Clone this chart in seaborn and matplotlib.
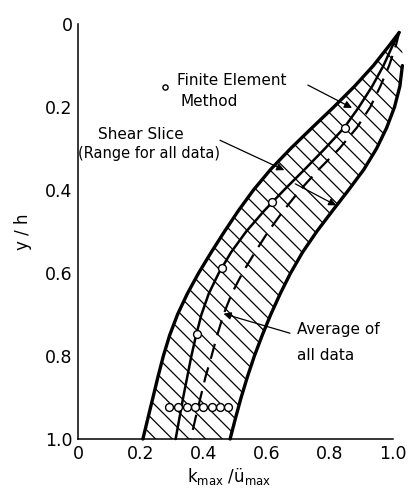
import numpy as np
import pandas as pd
import matplotlib
matplotlib.use("Agg")
import matplotlib.pyplot as plt
import seaborn as sns

depth = [0.02, 0.05, 0.10, 0.15, 0.20, 0.25, 0.30, 0.35, 0.40, 0.45, 0.50,
         0.55, 0.60, 0.65, 0.70, 0.75, 0.80, 0.85, 0.90, 0.95, 1.00]

# shear slice range, left and right edge (k_max / u_max)
range_left = [1.02, 0.99, 0.938, 0.878, 0.812, 0.743, 0.675, 0.612, 0.557, 0.509, 0.465,
              0.423, 0.383, 0.347, 0.316, 0.291, 0.271, 0.254, 0.238, 0.222, 0.206]
range_right = [1.02, 1.03, 1.03, 1.022, 1.005, 0.98, 0.948, 0.908, 0.859, 0.808, 0.758,
               0.713, 0.675, 0.642, 0.612, 0.585, 0.56, 0.538, 0.518, 0.50, 0.483]

# finite element curve
fem_curve = [1.02, 1.0, 0.97, 0.934, 0.892, 0.845, 0.784, 0.72, 0.654, 0.591, 0.534,
             0.486, 0.447, 0.415, 0.392, 0.375, 0.36, 0.347, 0.334, 0.322, 0.31]

# average of all data
avg_curve = [1.02, 1.01, 0.988, 0.96, 0.928, 0.885, 0.83, 0.765, 0.705, 0.652, 0.604,
             0.562, 0.522, 0.488, 0.462, 0.442, 0.424, 0.405, 0.389, 0.373, 0.358]

# finite element points
fem_pts_x = [0.848, 0.616, 0.457, 0.378]
fem_pts_y = [0.25, 0.429, 0.588, 0.747]
row_pts_x = [0.289, 0.318, 0.346, 0.371, 0.397, 0.425, 0.451, 0.476]
row_pts_y = [0.923] * 8

ticks = [0, 0.2, 0.4, 0.6, 0.8, 1.0]
tick_labels = ['0', '0.2', '0.4', '0.6', '0.8', '1.0']

sns.set_style('white', rc={'text.color': 'black', 'axes.labelcolor': 'black',
                           'xtick.color': 'black', 'ytick.color': 'black'})
plt.rcParams['font.family'] = ['DejaVu Sans']
plt.rcParams['hatch.linewidth'] = 0.9

fig = plt.figure(figsize=(4.09, 4.91), dpi=100)
ax = fig.add_axes([0.1907, 0.1059, 0.770, 0.845])

# hatched range
ax.fill_betweenx(depth, range_left, range_right, facecolor='none',
                 edgecolor='black', hatch='\\\\', linewidth=0, clip_on=False)

df = pd.DataFrame({'y': depth, 'left': range_left, 'right': range_right,
                   'fem': fem_curve, 'avg': avg_curve})

sns.lineplot(data=df, x='left', y='y', sort=False, estimator=None, color='black',
             lw=2.4, ax=ax, clip_on=False)
sns.lineplot(data=df.iloc[2:], x='right', y='y', sort=False, estimator=None, color='black',
             lw=2.4, ax=ax, clip_on=False)
sns.lineplot(data=df, x='fem', y='y', sort=False, estimator=None, color='black',
             lw=1.8, ax=ax, clip_on=False)
sns.lineplot(data=df, x='avg', y='y', sort=False, estimator=None, color='black',
             lw=1.6, ax=ax, clip_on=False, linestyle=(0, (7, 4)))

ax.plot(row_pts_x, row_pts_y, color='black', lw=0.8)
sns.scatterplot(x=fem_pts_x + row_pts_x, y=fem_pts_y + row_pts_y, ax=ax, s=32,
                facecolor='white', edgecolor='black', linewidth=1.0, zorder=5)

ax.set_xlim(0, 1.0)
ax.set_ylim(1.0, 0)
ax.set_xticks(ticks)
ax.set_xticklabels(tick_labels)
ax.set_yticks(ticks)
ax.set_yticklabels(tick_labels)
ax.tick_params(direction='in', length=9, width=1.1, labelsize=12.5, pad=4)
for s in ['top', 'right']:
    ax.spines[s].set_visible(False)
for s in ['left', 'bottom']:
    ax.spines[s].set_linewidth(1.1)
    ax.spines[s].set_color('black')

ax.set_xlabel('k$_{\\mathrm{max}}$ /ü$_{\\mathrm{max}}$', fontsize=12)
ax.xaxis.set_label_coords(0.48, -0.065)
ax.set_ylabel('y / h', fontsize=12)
ax.yaxis.set_label_coords(-0.145, 0.5)

# annotations
ax.scatter([0.276], [0.152], s=14, facecolor='white', edgecolor='black', lw=1.0)
ax.text(0.314, 0.135, 'Finite Element', fontsize=11, va='center', ha='left')
ax.text(0.324, 0.186, 'Method', fontsize=11, va='center', ha='left')
ax.text(0.063, 0.267, 'Shear Slice', fontsize=11, va='center', ha='left')
ax.text(0.0, 0.311, '(Range for all data)', fontsize=10.5, va='center', ha='left')
ax.text(0.695, 0.737, 'Average of', fontsize=11, va='center', ha='left')
ax.text(0.695, 0.798, 'all data', fontsize=11, va='center', ha='left')

arrow = dict(arrowstyle='-|>', color='black', lw=0.9, mutation_scale=11,
             shrinkA=0, shrinkB=0)
ax.annotate('', xy=(0.87, 0.202), xytext=(0.73, 0.147), arrowprops=arrow)
ax.annotate('', xy=(0.655, 0.352), xytext=(0.451, 0.28), arrowprops=arrow)
ax.annotate('', xy=(0.82, 0.437), xytext=(0.69, 0.385), arrowprops=arrow)
ax.annotate('', xy=(0.462, 0.698), xytext=(0.673, 0.745), arrowprops=arrow)

fig.savefig('out.png', dpi=100)
